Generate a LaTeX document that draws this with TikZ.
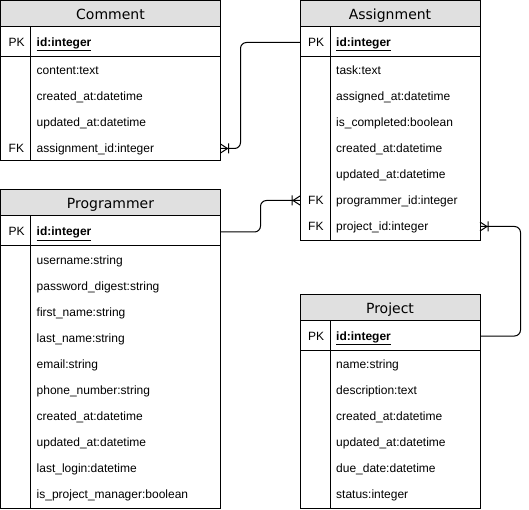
\documentclass[tikz,border=0pt]{standalone}
\usepackage{fontspec}
\setmainfont{Liberation Sans}
\newfontfamily\titlefont{DejaVu Sans}
\definecolor{hdr}{HTML}{E0E0E0}
\tikzset{
  ebody/.style={draw, line width=1pt, anchor=north west, inner sep=0pt, outer sep=0pt},
  ehead/.style={draw, fill=hdr, line width=1pt, anchor=north west, inner sep=0pt, outer sep=0pt, minimum height=26pt},
  etitle/.style={anchor=base, inner sep=0pt, font=\titlefont\fontsize{14}{16}\selectfont},
  field/.style={anchor=base west, inner sep=0pt, font=\fontsize{12}{14}\selectfont},
  sep/.style={line width=1pt},
  conn/.style={line width=1pt},
}
% name, x, y, width, height, title, field list
\newcommand\entity[7]{%
  \node[ebody, minimum width=#4pt, minimum height=#5pt] (#1) at (#2,#3) {};
  \node[ehead, minimum width=#4pt] (#1-head) at (#2,#3) {};
  \node[etitle] (#1-title) at ([shift={({#4/2},19)}]#1.north west) {#6};
  \draw[sep] ([shift={(0,56)}]#1.north west) -- ([shift={(#4,56)}]#1.north west);
  \draw[sep] ([shift={(30,26)}]#1.north west) -- ([xshift=30pt]#1.south west);
  \node[field] (#1-pkl) at ([shift={(8,46)}]#1.north west) {PK};
  \node[field] (#1-pk) at ([shift={(36,46)}]#1.north west) {\underline{\textbf{id:integer}}};
  \coordinate (#1-ypk) at ([shift={(0,42)}]#1.north west);
  \foreach \t [count=\i] in {#7} {
    \node[field] (#1-r\i) at ([shift={(36,{48+26*\i})}]#1.north west) {\t};
    \coordinate (#1-y\i) at ([shift={(0,{44+26*\i})}]#1.north west);
  }
}
% crow's foot with bar: point, direction (1 right, -1 left)
\newcommand\crow[2]{%
  \draw[conn] ([xshift=#2*7pt]#1) -- ([yshift=4.5pt]#1)
              ([xshift=#2*7pt]#1) -- ([yshift=-4.5pt]#1)
              ([shift={(#2*8pt,-5pt)}]#1) -- ([shift={(#2*8pt,5pt)}]#1);
}
\begin{document}
\begin{tikzpicture}[x=1pt, y=-1pt]
\useasboundingbox (0,0) rectangle (529,510);

\entity{comment}{0.5}{0.5}{220}{160}{Comment}{content:text, created\_at:datetime, updated\_at:datetime, assignment\_id:integer}
\node[field] (comment-fk) at ([shift={(8,152)}]comment.north west) {FK};

\entity{assignment}{300}{0.5}{180}{240}{Assignment}{task:text, assigned\_at:datetime, is\_completed:boolean, created\_at:datetime, updated\_at:datetime, programmer\_id:integer, project\_id:integer}
\node[field] (assignment-fk1) at ([shift={(8,204)}]assignment.north west) {FK};
\node[field] (assignment-fk2) at ([shift={(8,230)}]assignment.north west) {FK};

\entity{programmer}{0.5}{190}{220}{318}{Programmer}{username:string, password\_digest:string, first\_name:string, last\_name:string, email:string, phone\_number:string, created\_at:datetime, updated\_at:datetime, last\_login:datetime, is\_project\_manager:boolean}

\entity{project}{300}{294}{180}{214}{Project}{name:string, description:text, created\_at:datetime, updated\_at:datetime, due\_date:datetime, status:integer}

% connectors
\coordinate (k1) at (240.5,0);
\coordinate (k2) at (260.5,0);
\coordinate (k3) at (520.5,0);

\coordinate (e1) at (comment.east |- comment-y4);
\draw[conn, rounded corners=6pt] (e1) -- (k1 |- e1) -- (k1 |- assignment-ypk) -- (assignment.west |- assignment-ypk);
\crow{e1}{1}

\coordinate (e2) at (assignment.west |- assignment-y6);
\draw[conn, rounded corners=6pt] (programmer.east |- programmer-ypk) -- (k2 |- programmer-ypk) -- (k2 |- e2) -- (e2);
\crow{e2}{-1}

\coordinate (e3) at (assignment.east |- assignment-y7);
\draw[conn, rounded corners=6pt] (e3) -- (k3 |- e3) -- (k3 |- project-ypk) -- (project.east |- project-ypk);
\crow{e3}{1}
\end{tikzpicture}
\end{document}
